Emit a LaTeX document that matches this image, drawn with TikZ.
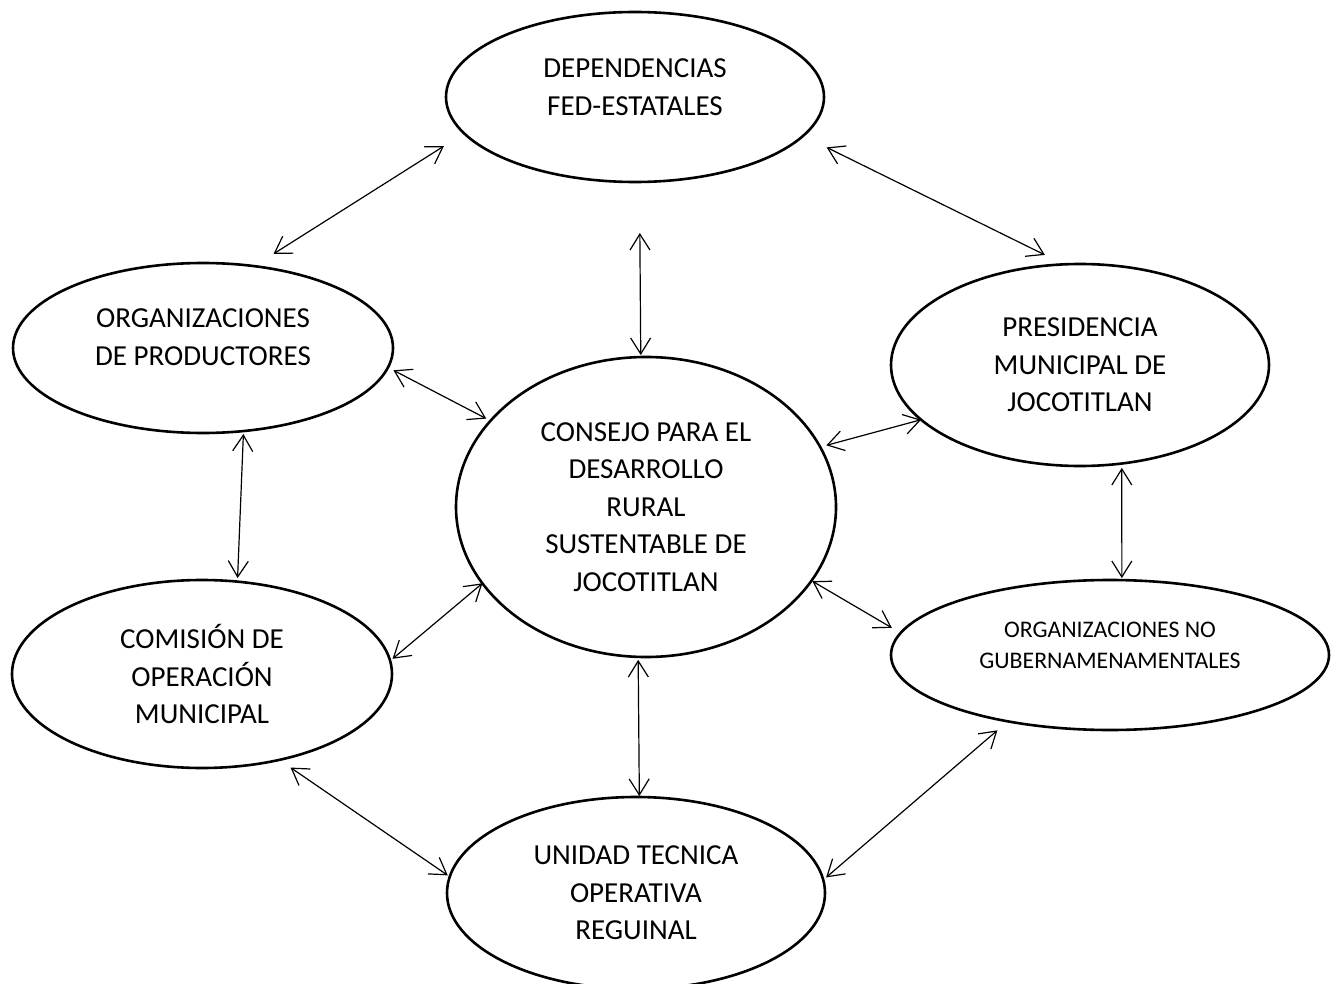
\documentclass[tikz,border=0pt]{standalone}
\usepackage{fontspec}
\setmainfont{Carlito}
\usetikzlibrary{arrows.meta, shapes.geometric}

\begin{document}
\begin{tikzpicture}[
            x = 0.5pt, y = -0.5pt, % one unit = one pixel of the sketch
            > = {Straight Barb[length=8pt, width=10pt]}, % arrow head style
            semithick % line style
        ]

        \tikzset{
            blob/.style = {
                ellipse,
                draw = black,
                line width = 1.3pt,
                inner sep = 0pt,
                outer sep = 0pt,
                align = center,
                font = \fontsize{14.5pt}{18.75pt}\selectfont
            },
            link/.style = {<->, line width = 0.6pt}
        }

        \useasboundingbox (0,0) rectangle (1338,984);

        \node[blob, minimum width=189pt, minimum height=85pt, text depth=10pt] (dep) at (635,97) {DEPENDENCIAS\\FED-ESTATALES};
        \node[blob, minimum width=190pt, minimum height=85pt, text depth=11pt] (prod) at (203,348) {ORGANIZACIONES\\DE PRODUCTORES};
        \node[blob, minimum width=189pt, minimum height=101pt] (pres) at (1080,365) {PRESIDENCIA\\MUNICIPAL DE\\JOCOTITLAN};
        \node[blob, minimum width=190pt, minimum height=150pt] (consejo) at (646,507) {CONSEJO PARA EL\\DESARROLLO\\RURAL\\SUSTENTABLE DE\\JOCOTITLAN};
        \node[blob, minimum width=190pt, minimum height=94pt] (comision) at (202,674) {COMISIÓN DE\\OPERACIÓN\\MUNICIPAL};
        \node[blob, minimum width=219pt, minimum height=75pt, text depth=10pt, font=\fontsize{11.9pt}{15.5pt}\selectfont] (ong) at (1110,655) {ORGANIZACIONES NO\\GUBERNAMENAMENTALES};
        \node[blob, minimum width=189pt, minimum height=96pt] (unidad) at (636,893) {UNIDAD TECNICA\\OPERATIVA\\REGUINAL};

        \draw[link, shorten <=12pt, shorten >=11.5pt] (dep.192.9) -- (prod.58.4);
        \draw[link, shorten <=25.5pt, shorten >=1pt] (dep.-87.3) -- (consejo.92.7);
        \draw[link, shorten <=13.1pt, shorten >=10.7pt] (dep.-13.3) -- (pres.99);
        \draw[link, shorten <=3.1pt, shorten >=2.4pt] (prod.-6.9) -- (consejo.151.1);
        \draw[link, shorten <=1.5pt, shorten >=1.8pt] (prod.-64.3) -- (comision.69.3);
        \draw[link, shorten <=3.2pt] (consejo.19.9) -- (pres.-161.4);
        \draw[link, shorten <=2.2pt, shorten >=1pt] (pres.-67.4) -- (ong.81.6);
        \draw[link, shorten >=1.6pt] (consejo.-155.3) -- (comision.4.6);
        \draw[link, shorten <=0.5pt, shorten >=5.1pt] (consejo.-24.7) -- (ong.174.6);
        \draw[link, shorten <=1.5pt, shorten >=0.5pt] (consejo.-93.05) -- (unidad.88.8);
        \draw[link, shorten <=6.8pt, shorten >=1.2pt] (comision.-48.7) -- (unidad.175.8);
        \draw[link, shorten <=6.9pt, shorten >=1.9pt] (ong.-147.8) -- (unidad.4.1);

    \end{tikzpicture}
\end{document}
